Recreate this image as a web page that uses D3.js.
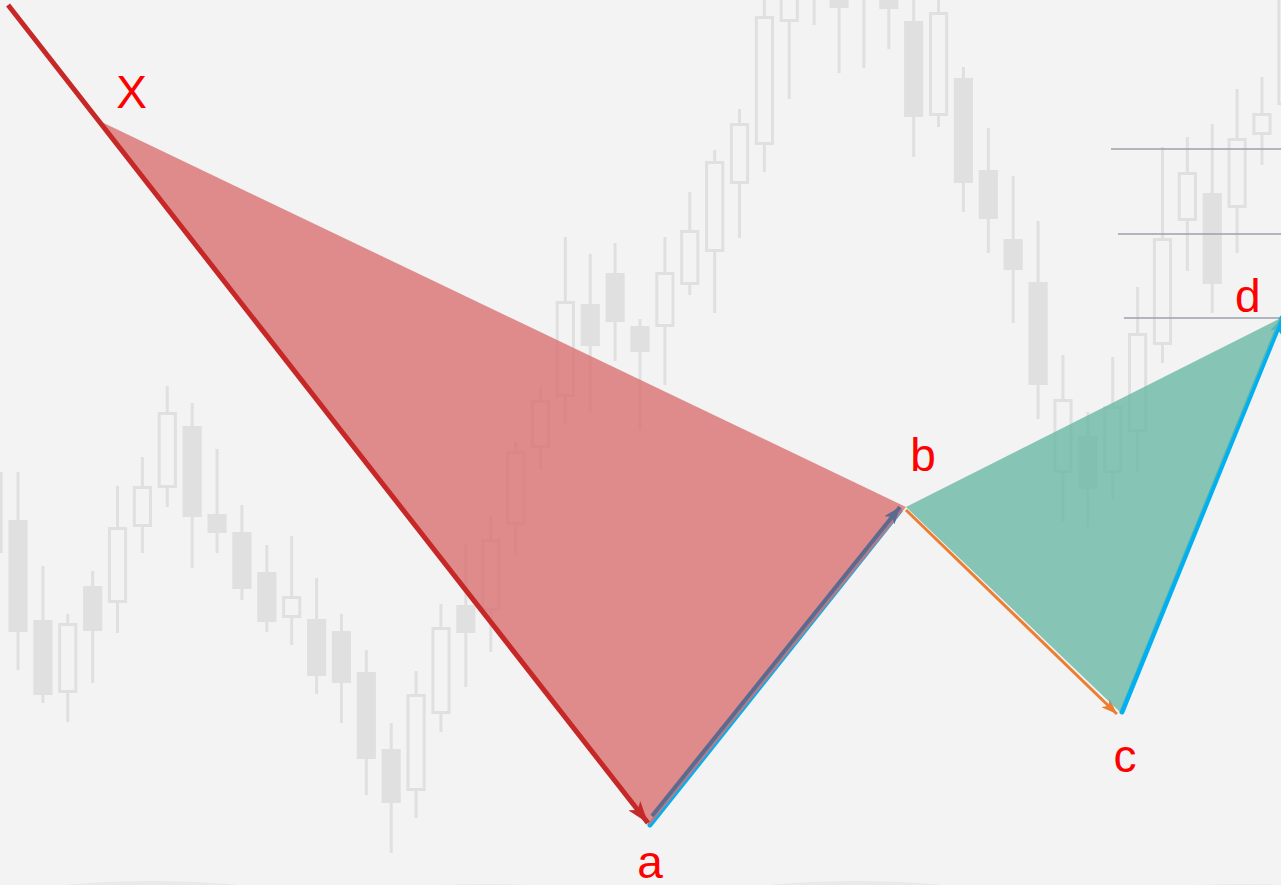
<!DOCTYPE html>
<html><head><meta charset="utf-8">
<script src="https://cdn.jsdelivr.net/npm/d3@7"></script>
<style>html,body{margin:0;padding:0;background:#f3f3f3;overflow:hidden}</style>
</head><body>
<svg id="chart" width="1281" height="885"></svg>
<script>
// ---- DATA ----
const candleIndex = d3.range(-1, 52);
const opens  = [528,480,380,307,414,397,473,512,574,486,468,428,382,381,369,328,251,209,286,395,389,475,552,603,696,727,674,673,715,748,816,855,978,1005,1030,1040,1025,979,884,922,830,761,718,527,564,527,568,655,779,807,792,865,895];
const highs  = [550,528,434,386,429,514,543,614,597,551,495,455,464,422,386,350,277,329,396,456,484,558,613,763,746,757,681,763,808,850,891,1010,1060,1070,1050,1060,1040,1005,1010,933,872,824,779,645,588,643,713,853,863,876,911,923,1040];
const lows   = [430,330,297,278,317,367,447,493,432,447,400,368,355,306,277,205,147,182,268,313,348,445,530,575,588,639,570,615,705,687,762,828,901,975,927,932,951,843,873,788,747,677,581,478,473,501,527,637,729,687,747,835,880];
const closes = [447,368,305,377,369,473,514,588,483,467,411,378,404,324,317,241,197,306,373,367,461,549,600,699,654,678,648,728,770,839,877,984,1040,1050,992,1003,991,883,988,817,781,730,615,601,511,594,667,762,828,716,862,887,1020];

// harmonic pattern points
const patternLabels = ["X","a","b","c","d"];
const patternIdx    = [3.36, 25.4, 35.69, 44.29, 50.76];
const patternPrice  = [878, 175, 493, 288, 682];
// start of the incoming leg to X
const legStartIdx = -0.4, legStartPrice = 995;

// retracement levels near d
const levelPrices   = [851, 766, 682];
const levelStartIdx = [43.93, 44.21, 44.45];

// ---- SCALES ----
const W = 1281, H = 885;
const x = d3.scaleLinear().domain([0, 50]).range([18, 1262]);
const y = d3.scaleLinear().domain([1000, 115]).range([0, 885]);
const step = x(1) - x(0);
const bodyW = step * 0.77;

const svg = d3.select("#chart");
const BG = "#f3f3f3", CANDLE = "#e0e0e0";
svg.append("rect").attr("width", W).attr("height", H).attr("fill", BG);

// faint decorative shapes at bottom
const deco = svg.append("g").attr("fill", "#e9e9e9");
[[151,921],[486,924],[856,921],[1240,924]].forEach(([cx,cy]) =>
  deco.append("ellipse").attr("cx",cx).attr("cy",cy).attr("rx",200).attr("ry",40));

// ---- CANDLES ----
const candles = candleIndex.map((i, k) => ({i, o: opens[k], h: highs[k], l: lows[k], c: closes[k]}));
const cg = svg.append("g");
cg.selectAll("line.wick").data(candles).join("line")
  .attr("x1", d => x(d.i)).attr("x2", d => x(d.i))
  .attr("y1", d => y(d.h)).attr("y2", d => y(d.l))
  .attr("stroke", CANDLE).attr("stroke-width", 3);
cg.selectAll("rect.body").data(candles).join("rect")
  .each(function(d) {
    const top = y(Math.max(d.o, d.c)), bot = y(Math.min(d.o, d.c));
    const up = d.c > d.o;
    const r = d3.select(this);
    if (up) {
      r.attr("x", x(d.i) - bodyW/2 + 1.5).attr("width", bodyW - 3)
       .attr("y", top + 1.5).attr("height", Math.max(0, bot - top - 3))
       .attr("fill", BG).attr("stroke", CANDLE).attr("stroke-width", 3);
    } else {
      r.attr("x", x(d.i) - bodyW/2).attr("width", bodyW)
       .attr("y", top).attr("height", bot - top)
       .attr("fill", CANDLE);
    }
  });

// ---- LEVEL LINES ----
svg.append("g").selectAll("line").data(levelPrices).join("line")
  .attr("x1", (d, k) => x(levelStartIdx[k])).attr("x2", W)
  .attr("y1", d => y(d)).attr("y2", d => y(d))
  .attr("stroke", "#9ca1ab").attr("stroke-width", 1.5);

// ---- MARKERS ----
const defs = svg.append("defs");
function marker(id, color, len, wid) {
  defs.append("marker").attr("id", id)
    .attr("markerUnits", "userSpaceOnUse")
    .attr("viewBox", `0 0 ${len} ${wid}`)
    .attr("refX", len).attr("refY", wid/2)
    .attr("markerWidth", len).attr("markerHeight", wid)
    .attr("orient", "auto")
    .append("path")
    .attr("d", `M0,0 L${len},${wid/2} L0,${wid} L${len*0.25},${wid/2} Z`)
    .attr("fill", color);
}
marker("arRed", "#c62828", 22, 15);
marker("arDark", "#5d6a8f", 17, 13);
marker("arOrange", "#ed7d31", 16, 12);
marker("arCyan", "#00b0f0", 16, 12);

const P = patternLabels.map((l, k) => ({label: l, px: x(patternIdx[k]), py: y(patternPrice[k])}));
const [pX, pA, pB, pC, pD] = P;

// legs drawn beneath the filled triangles
svg.append("line")
  .attr("x1", pA.px).attr("y1", pA.py).attr("x2", pB.px - 6).attr("y2", pB.py + 4)
  .attr("stroke", "#00b0f0").attr("stroke-width", 5).attr("stroke-linecap", "round");
svg.append("line")
  .attr("x1", pB.px).attr("y1", pB.py + 1).attr("x2", pC.px - 3).attr("y2", pC.py)
  .attr("stroke", "#ed7d31").attr("stroke-width", 3)
  .attr("marker-end", "url(#arOrange)")
  .attr("transform", "translate(0,2)");
svg.append("line")
  .attr("x1", pC.px + 2).attr("y1", pC.py).attr("x2", pD.px + 1).attr("y2", pD.py)
  .attr("stroke", "#00b0f0").attr("stroke-width", 5).attr("stroke-linecap", "round")
  .attr("marker-end", "url(#arCyan)");

// ---- TRIANGLES ----
const tri = d3.line().x(d => d.px).y(d => d.py);
svg.append("path").attr("d", tri([pX, pA, pB]) + "Z")
  .attr("fill", "#d97070").attr("fill-opacity", 0.8);
svg.append("path").attr("d", tri([pB, pC, pD]) + "Z")
  .attr("fill", "#6ab8a6").attr("fill-opacity", 0.8);

// ---- X -> a leg (red) ----
svg.append("line")
  .attr("x1", x(legStartIdx)).attr("y1", y(legStartPrice))
  .attr("x2", pA.px - 2).attr("y2", pA.py - 2)
  .attr("stroke", "#c62828").attr("stroke-width", 5)
  .attr("marker-end", "url(#arRed)");

// ---- a -> b dark arrow ----
svg.append("line")
  .attr("x1", pA.px + 4).attr("y1", pA.py - 8).attr("x2", pB.px - 4).attr("y2", pB.py + 1)
  .attr("stroke", "#5d6a8f").attr("stroke-width", 4)
  .attr("marker-end", "url(#arDark)")
  .attr("transform", "translate(-2,-1)");

// ---- LABELS ----
const labelOffset = {X: [30, -14], a: [0, 53], b: [17, -36], c: [5, 60], d: [-33, -6]};
svg.append("g").selectAll("text").data(P).join("text")
  .attr("x", d => d.px + labelOffset[d.label][0])
  .attr("y", d => d.py + labelOffset[d.label][1])
  .attr("text-anchor", "middle")
  .attr("font-family", "'Liberation Sans', Arial, sans-serif")
  .attr("font-size", 46)
  .attr("fill", "#ff0000")
  .text(d => d.label);
</script>
</body></html>
